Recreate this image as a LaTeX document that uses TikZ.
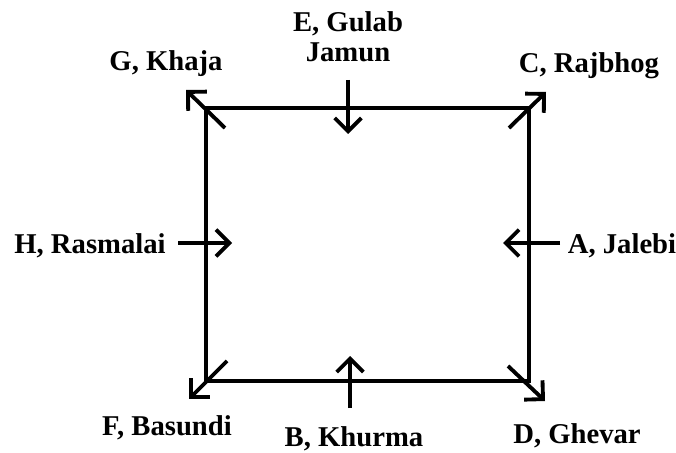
\documentclass[tikz,border=0pt]{standalone}
\usepackage{fontspec}
\setmainfont{Liberation Serif}
\usetikzlibrary{arrows.meta,calc}

\tikzset{
  side/.style={line width=2.9pt},
  arr/.style={line width=2.9pt,-{Straight Barb[length=10pt,width=20pt,sharp]}},
  lbl/.style={anchor=base,inner sep=0pt,font=\fontsize{21.5}{23}\selectfont\bfseries,align=center}
}

\begin{document}
\begin{tikzpicture}[x=0.75pt,y=-0.75pt]
  \useasboundingbox (0,0) rectangle (676,453);

  \coordinate (tl) at (206,108);
  \coordinate (tr) at (529,108);
  \coordinate (br) at (529,381);
  \coordinate (bl) at (206,381);
  \draw[side] (tl) -- (tr) -- (br) -- (bl) -- cycle;

  \node (G) [lbl] at (166,71) {G, Khaja};
  \node (E) [lbl] at (348,62) {E, Gulab\\Jamun};
  \node (C) [lbl] at (589,73) {C, Rajbhog};
  \node (H) [lbl] at (90,253) {H, Rasmalai};
  \node (A) [lbl] at (622,253) {A, Jalebi};
  \node (F) [lbl] at (167,435) {F, Basundi};
  \node (B) [lbl] at (354,446) {B, Khurma};
  \node (D) [lbl] at (577,443) {D, Ghevar};

  \coordinate (es) at (348,80);
  \coordinate (ee) at (348,134);
  \coordinate (bs) at (350,408);
  \coordinate (be) at (350,356);
  \coordinate (hs) at (178,243);
  \coordinate (he) at (232,243);
  \coordinate (as) at (560,243);
  \coordinate (ae) at (503,243);

  \draw[arr] (es) -- (ee);
  \draw[arr] (bs) -- (be);
  \draw[arr] (hs) -- (he);
  \draw[arr] (as) -- (ae);

  \draw[arr] ($(tl)+(19,20)$) -- ($(tl)+(-20,-18)$);
  \draw[arr] ($(tr)+(-20,20)$) -- ($(tr)+(17,-16)$);
  \draw[arr] ($(bl)+(21,-20)$) -- ($(bl)+(-17,18)$);
  \draw[arr] ($(br)+(-21,-15)$) -- ($(br)+(16,20)$);
\end{tikzpicture}
\end{document}
